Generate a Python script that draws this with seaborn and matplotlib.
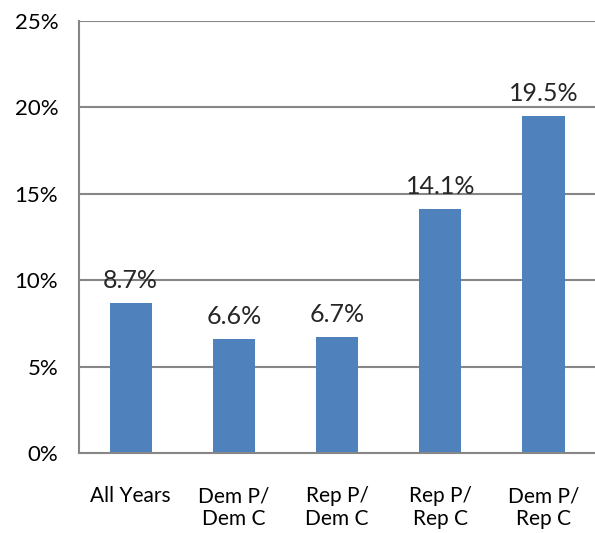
import matplotlib
matplotlib.use("Agg")
import matplotlib.pyplot as plt
import seaborn as sns
import pandas as pd

categories = ["All Years", "Dem P/\nDem C", "Rep P/\nDem C", "Rep P/\nRep C", "Dem P/\nRep C"]
values = [8.7, 6.6, 6.7, 14.1, 19.5]
value_labels = ["8.7%", "6.6%", "6.7%", "14.1%", "19.5%"]
yticks = [0, 5, 10, 15, 20, 25]
ytick_labels = ["0%", "5%", "10%", "15%", "20%", "25%"]

sns.set_style("white")
plt.rcParams['font.family'] = ['Lato', 'DejaVu Sans']

df = pd.DataFrame({"cat": categories, "val": values})

fig = plt.figure(figsize=(5.95, 5.33), dpi=100)
ax = fig.add_axes([0.133, 0.150, 0.867, 0.811])

sns.barplot(data=df, x="cat", y="val", color="#4F81BD", saturation=1, width=0.41,
            linewidth=0, ax=ax)

ax.set_ylim(0, 25)
ax.set_xlim(-0.5, 4.5)
ax.set_yticks(yticks)
ax.set_yticklabels(ytick_labels, fontsize=16)
ax.set_xticks(range(len(categories)))
ax.set_xticklabels(categories, fontsize=15, linespacing=1.15)
ax.set_xlabel("")
ax.set_ylabel("")
ax.tick_params(axis="both", length=0, colors="black")
ax.tick_params(axis="y", pad=15)
ax.tick_params(axis="x", pad=24)

for y in yticks[1:]:
    ax.axhline(y, color="#868686", linewidth=1.5, zorder=0)

for s in ["top", "right"]:
    ax.spines[s].set_visible(False)
for s in ["left", "bottom"]:
    ax.spines[s].set_color("#868686")
    ax.spines[s].set_linewidth(1.5)

for i, (v, lab) in enumerate(zip(values, value_labels)):
    ax.annotate(lab, (i, v), xytext=(0, 8), textcoords="offset points",
                ha="center", va="bottom", fontsize=18)

fig.savefig("out.png", dpi=100)
